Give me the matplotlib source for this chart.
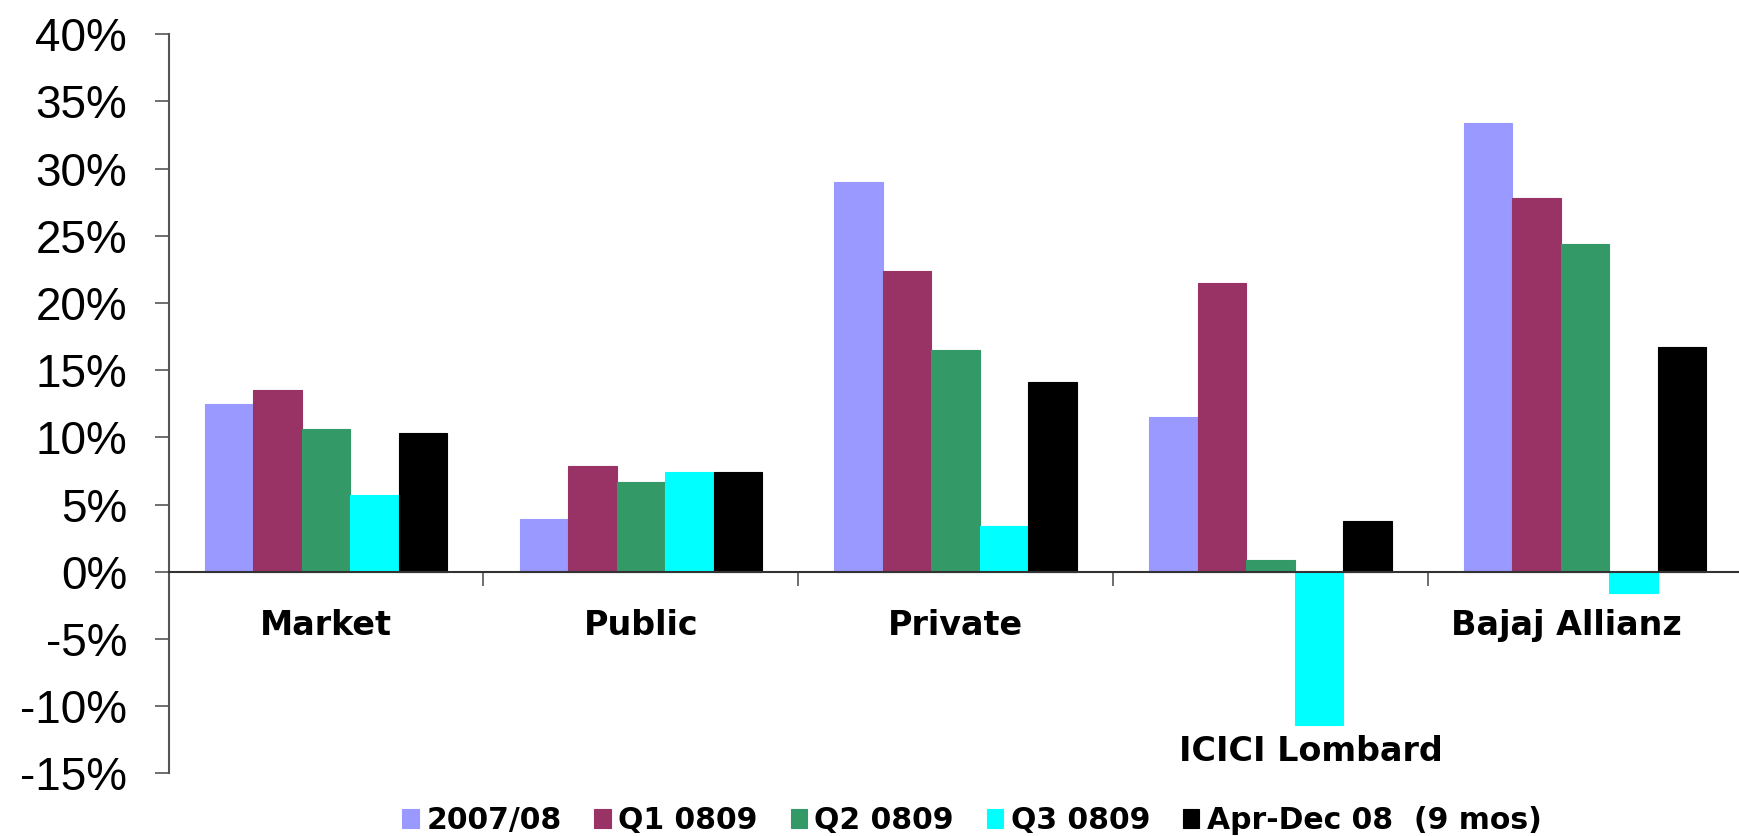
import numpy as np
import matplotlib
matplotlib.use("Agg")
import matplotlib.pyplot as plt
from matplotlib.ticker import FuncFormatter, MultipleLocator

categories = ["Market", "Public", "Private", "ICICI Lombard", "Bajaj Allianz"]
series_names = ["2007/08", "Q1 0809", "Q2 0809", "Q3 0809", "Apr-Dec 08  (9 mos)"]
growth_0708 = [12.5, 3.9, 29.0, 11.5, 33.4]
growth_q1 = [13.5, 7.9, 22.4, 21.5, 27.8]
growth_q2 = [10.6, 6.7, 16.5, 0.9, 24.4]
growth_q3 = [5.7, 7.4, 3.4, -11.4, -1.6]
growth_aprdec = [10.3, 7.4, 14.1, 3.8, 16.7]

colors = ["#9999FF", "#993366", "#339966", "#00FFFF", "#000000"]
label_shift = [0, 0, 0, 0.13, -0.06]

series = [growth_0708, growth_q1, growth_q2, growth_q3, growth_aprdec]

fig = plt.figure(figsize=(17.39, 8.36), dpi=100)
ax = fig.add_axes([0.097, 0.075, 0.905, 0.884])

x = np.arange(len(categories))
w = 0.154
for i, (vals, name, c) in enumerate(zip(series, series_names, colors)):
    ax.bar(x + (i - 2) * w, vals, w, color=c, label=name,
           edgecolor=c, linewidth=0.8, zorder=2)

ax.set_xlim(-0.5, len(categories) - 0.5)
ax.set_ylim(-15, 40)
ax.yaxis.set_major_locator(MultipleLocator(5))
ax.yaxis.set_major_formatter(FuncFormatter(lambda v, p: f"{v:.0f}%"))

for s in ["top", "right"]:
    ax.spines[s].set_visible(False)
ax.spines["left"].set_color("#555555")
ax.spines["left"].set_linewidth(1.5)
ax.spines["bottom"].set_position(("data", 0))
ax.spines["bottom"].set_color("#333333")
ax.spines["bottom"].set_linewidth(1.5)

ax.set_xticks(np.arange(0.5, len(categories) - 0.5, 1))
ax.set_xticklabels([])
ax.tick_params(axis="x", direction="out", length=10, width=1.2, color="#555555")
ax.tick_params(axis="y", direction="out", length=10, width=1.2, color="#555555",
               pad=20, labelsize=33)
for t in ax.get_yticklabels():
    t.set_fontfamily("Liberation Sans")

for i, cat in enumerate(categories):
    low = min(s[i] for s in series)
    y = min(-4.0, low - 2.0)
    ax.text(i + label_shift[i], y, cat, ha="center", va="center",
            fontsize=24, fontweight="bold", family="DejaVu Sans")

fig.legend(loc="center", bbox_to_anchor=(0.559, 0.018), ncol=5, frameon=False,
           borderpad=0, handlelength=0.55, handleheight=0.6, handletextpad=0.25,
           columnspacing=1.1,
           prop={"family": "DejaVu Sans", "weight": "bold", "size": 21.5})

fig.savefig("out.png", dpi=100)
